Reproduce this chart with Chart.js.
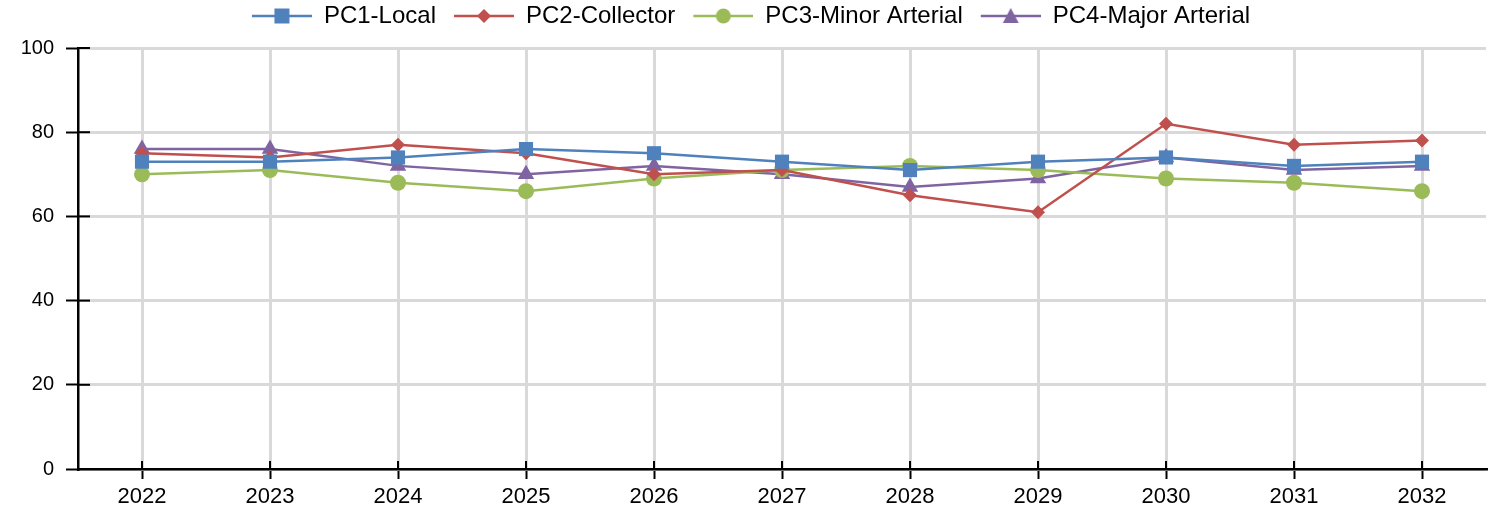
<!DOCTYPE html>
<html>
<head>
<meta charset="utf-8">
<script src="https://cdn.jsdelivr.net/npm/chart.js@4/dist/chart.umd.min.js"></script>
<style>
  html, body { margin: 0; padding: 0; background: #fff; }
  #wrap { width: 1496px; height: 514px; position: relative; }
</style>
</head>
<body>
<div id="wrap"><canvas id="grafico"></canvas></div>
<script>
/* dados */
const anos = ['2022', '2023', '2024', '2025', '2026', '2027', '2028', '2029', '2030', '2031', '2032'];

const pc1_local = [73, 73, 74, 76, 75, 73, 71, 73, 74, 72, 73];
const pc2_collector = [75, 74, 77, 75, 70, 71, 65, 61, 82, 77, 78];
const pc3_minor = [70, 71, 68, 66, 69, 71, 72, 71, 69, 68, 66];
const pc4_major = [76, 76, 72, 70, 72, 70, 67, 69, 74, 71, 72];

const nomes = ['PC1-Local', 'PC2-Collector', 'PC3-Minor Arterial', 'PC4-Major Arterial'];
const cores = ['#4F81BD', '#C0504D', '#9BBB59', '#8064A2'];
const marcadores = ['rect', 'rectRot', 'circle', 'triangle'];
const tamanhos = [10, 7, 8, 9.5];

const fonte = 'Liberation Sans, Arial, sans-serif';

/* icone da legenda: linha com marcador no meio (margem a esquerda para espaçar os itens) */
function iconeLegenda(cor, estilo) {
  const c = document.createElement('canvas');
  c.width = 74; c.height = 18;
  const ctx = c.getContext('2d');
  const x0 = 14, cx = x0 + 30;
  ctx.strokeStyle = cor;
  ctx.lineWidth = 2.5;
  ctx.beginPath(); ctx.moveTo(x0, 9); ctx.lineTo(x0 + 60, 9); ctx.stroke();
  ctx.fillStyle = cor;
  ctx.beginPath();
  if (estilo === 'rect') ctx.rect(cx - 7.5, 1.5, 15, 15);
  else if (estilo === 'rectRot') { ctx.moveTo(cx, 2); ctx.lineTo(cx + 7, 9); ctx.lineTo(cx, 16); ctx.lineTo(cx - 7, 9); ctx.closePath(); }
  else if (estilo === 'circle') ctx.arc(cx, 9, 7.5, 0, Math.PI * 2);
  else { ctx.moveTo(cx, 1); ctx.lineTo(cx + 8, 16); ctx.lineTo(cx - 8, 16); ctx.closePath(); }
  ctx.fill();
  return c;
}

const series = [pc1_local, pc2_collector, pc3_minor, pc4_major];
const datasets = series.map((dados, i) => ({
  label: nomes[i],
  data: dados,
  borderColor: cores[i],
  backgroundColor: cores[i],
  borderWidth: 2.5,
  pointStyle: marcadores[i],
  pointRadius: tamanhos[i],
  pointBorderWidth: 0,
  pointHoverRadius: tamanhos[i],
  tension: 0
}));

/* espaço extra abaixo da legenda */
const alturaLegenda = {
  id: 'alturaLegenda',
  beforeInit(chart) {
    const fitOriginal = chart.legend.fit;
    chart.legend.fit = function () {
      fitOriginal.bind(chart.legend)();
      this.height += 10;
    };
  }
};

/* marcas de eixo que cruzam a linha do eixo */
const marcasCruzadas = {
  id: 'marcasCruzadas',
  afterDraw(chart) {
    const ctx = chart.ctx;
    const x = chart.scales.x, y = chart.scales.y;
    ctx.save();
    ctx.strokeStyle = '#000';
    ctx.lineWidth = 2;
    y.ticks.forEach((t, i) => {
      if (t.value === 0) return;
      const py = y.getPixelForTick(i);
      ctx.beginPath(); ctx.moveTo(y.right, py); ctx.lineTo(y.right + 12, py); ctx.stroke();
    });
    x.ticks.forEach((t, i) => {
      const px = x.getPixelForTick(i);
      ctx.beginPath(); ctx.moveTo(px, x.top); ctx.lineTo(px, x.top - 8); ctx.stroke();
    });
    ctx.restore();
  }
};

const config = {
  type: 'line',
  data: { labels: anos, datasets: datasets },
  options: {
    responsive: true,
    maintainAspectRatio: false,
    animation: false,
    layout: { padding: { left: 0, right: 8, top: 0, bottom: 0 } },
    plugins: {
      tooltip: { enabled: false },
      legend: {
        position: 'top',
        labels: {
          usePointStyle: true,
          pointStyleWidth: 74,
          boxHeight: 18,
          font: { family: fonte, size: 24 },
          color: '#000',
          padding: 4,
          generateLabels(chart) {
            return chart.data.datasets.map((ds, i) => ({
              text: ds.label,
              pointStyle: iconeLegenda(cores[i], marcadores[i]),
              datasetIndex: i,
              hidden: false,
              lineWidth: 0,
              fontColor: '#000'
            }));
          }
        }
      }
    },
    scales: {
      x: {
        offset: true,
        grid: { offset: false, color: '#d9d9d9', lineWidth: 3, tickColor: '#000', tickLength: 10, tickWidth: 2 },
        border: { color: '#000', width: 2.5 },
        ticks: { color: '#000', font: { family: fonte, size: 22 }, padding: 5 },
        afterFit(s) { s.height = 45; }
      },
      y: {
        min: 0,
        max: 100,
        ticks: { stepSize: 20, color: '#000', font: { family: fonte, size: 20 }, padding: 12 },
        grid: { color: '#d9d9d9', lineWidth: 3, tickColor: '#000', tickLength: 12, tickWidth: 2 },
        border: { color: '#000', width: 2.5 },
        afterFit(s) { s.width = 78; }
      }
    }
  },
  plugins: [alturaLegenda, marcasCruzadas]
};

const grafico = new Chart(document.getElementById('grafico'), config);
</script>
</body>
</html>
